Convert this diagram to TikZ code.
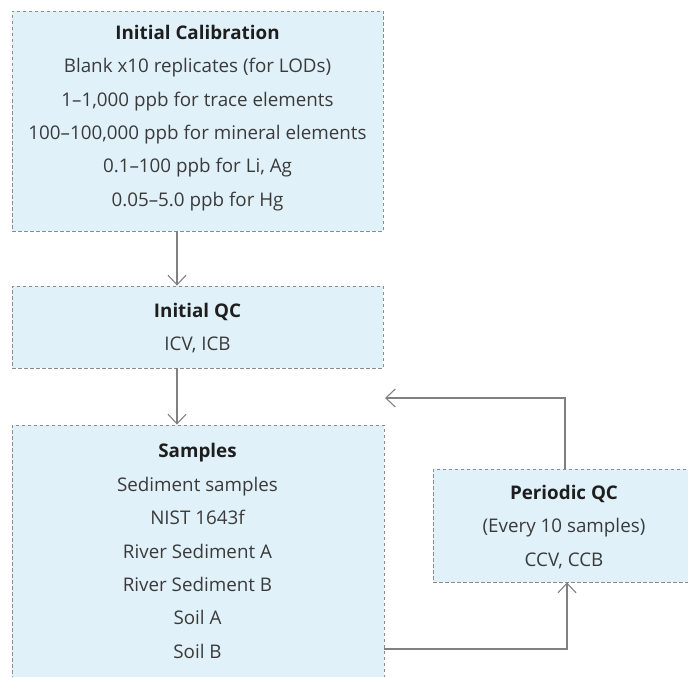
\documentclass[tikz,border=0pt]{standalone}
\usepackage{fontspec}
\setmainfont{Open Sans}
\usetikzlibrary{arrows.meta,calc}
\definecolor{boxfill}{HTML}{E1F1FA}
\definecolor{boxline}{HTML}{8C8C8C}
\definecolor{arrline}{HTML}{808080}
\definecolor{txtcol}{HTML}{3A3A3A}
\definecolor{ttlcol}{HTML}{1E1E1E}
\tikzset{
  qbox/.style={draw=boxline, fill=boxfill, line width=0.9pt, dash pattern=on 3.5pt off 2.5pt, rectangle, inner sep=0pt},
  btxt/.style={align=center, text=txtcol, inner sep=0pt, font={\fontsize{18.8}{33.4}\selectfont}},
  arr/.style={draw=arrline, line width=1.1pt, -{Straight Barb[length=9.5pt,width=18pt,line width=1.1pt]}},
}
\begin{document}
\begin{tikzpicture}[x=1pt,y=-1pt]
\useasboundingbox (0,0) rectangle (688,677);
\clip (0,0) rectangle (688,677);
\node[qbox, minimum width=371pt, minimum height=220pt] (b1) at (197.5,121) {};
\node[btxt] (t1) at (197.5,118) {{\color{ttlcol}\bfseries Initial Calibration}\\Blank x10 replicates (for LODs)\\1–1,000 ppb for trace elements\\100–100,000 ppb for mineral elements\\0.1–100 ppb for Li, Ag\\0.05–5.0 ppb for Hg};
\node[qbox, minimum width=371pt, minimum height=82pt] (b2) at (197.5,327) {};
\node[btxt] (t2) at (197.5,328) {{\color{ttlcol}\bfseries Initial QC}\\ICV, ICB};
\node[qbox, minimum width=372pt, minimum height=265pt] (b3) at (198,557.5) {};
\node[btxt] (t3) at (197.5,551) {{\color{ttlcol}\bfseries Samples}\\Sediment samples\\NIST 1643f\\River Sediment A\\River Sediment B\\Soil A\\Soil B};
\node[qbox, minimum width=262pt, minimum height=113pt] (pq) at (564,525.5) {};
\node[btxt] (t4) at (564,527) {{\color{ttlcol}\bfseries Periodic QC}\\(Every 10 samples)\\CCV, CCB};
\draw[arr] ([xshift=-20.5pt]b1.south) -- ([xshift=-20.5pt]b2.north);
\draw[arr] ([xshift=-20.5pt]b2.south) -- ([xshift=-21pt]b3.north);
\coordinate (fb) at (385,398);
\draw[arr] ([xshift=1pt]pq.north) |- (fb);
\coordinate (s1) at (b3.east |- 0,649);
\draw[arr] (s1) -| ([xshift=3pt]pq.south);
\end{tikzpicture}
\end{document}
